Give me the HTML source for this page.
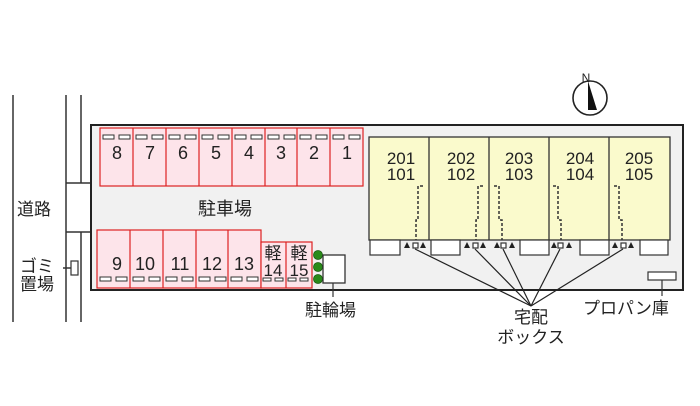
<!DOCTYPE html>
<html><head><meta charset="utf-8"><style>
html,body{margin:0;padding:0;background:#fff;width:700px;height:406px;overflow:hidden}
svg text{font-family:"Liberation Sans","Noto Sans CJK JP",sans-serif;fill:#222}
</style></head><body>
<svg width="700" height="406" viewBox="0 0 700 406" xmlns="http://www.w3.org/2000/svg">
<g stroke="#333" stroke-width="1.5" fill="none">
<line x1="13" y1="95" x2="13" y2="322"/>
<line x1="66" y1="95" x2="66" y2="322"/>
<line x1="81" y1="95" x2="81" y2="183"/>
<line x1="81" y1="232" x2="81" y2="322"/>
<line x1="66" y1="183" x2="91" y2="183"/>
<line x1="66" y1="232" x2="91" y2="232"/>
<line x1="63" y1="268" x2="71" y2="268"/>
</g>
<rect x="71" y="261" width="7" height="14" fill="#fff" stroke="#333" stroke-width="1.2"/>
<rect x="91" y="125" width="592" height="165" fill="#f1f1f1" stroke="#222" stroke-width="2"/>
<rect x="100" y="128" width="263" height="58" fill="#fde4ea" stroke="#d22" stroke-width="1.2"/>
<g stroke="#d22" stroke-width="1.2">
<line x1="133" y1="128" x2="133" y2="186"/><line x1="166" y1="128" x2="166" y2="186"/>
<line x1="199" y1="128" x2="199" y2="186"/><line x1="232" y1="128" x2="232" y2="186"/>
<line x1="265" y1="128" x2="265" y2="186"/><line x1="297" y1="128" x2="297" y2="186"/>
<line x1="330" y1="128" x2="330" y2="186"/>
</g>
<g fill="#fff" stroke="#333" stroke-width="1">
<rect x="103" y="135" width="11" height="4"/><rect x="119" y="135" width="11" height="4"/>
<rect x="136" y="135" width="11" height="4"/><rect x="152" y="135" width="11" height="4"/>
<rect x="169" y="135" width="11" height="4"/><rect x="185" y="135" width="11" height="4"/>
<rect x="202" y="135" width="11" height="4"/><rect x="218" y="135" width="11" height="4"/>
<rect x="235" y="135" width="11" height="4"/><rect x="251" y="135" width="11" height="4"/>
<rect x="268" y="135" width="11" height="4"/><rect x="284" y="135" width="11" height="4"/>
<rect x="300" y="135" width="11" height="4"/><rect x="316" y="135" width="11" height="4"/>
<rect x="333" y="135" width="11" height="4"/><rect x="349" y="135" width="11" height="4"/>
</g>
<g font-size="18" text-anchor="middle">
<text x="117" y="159">8</text><text x="150" y="159">7</text><text x="183" y="159">6</text>
<text x="216" y="159">5</text><text x="249" y="159">4</text><text x="281" y="159">3</text>
<text x="314" y="159">2</text><text x="347" y="159">1</text>
</g>
<rect x="97" y="230" width="164" height="58" fill="#fde4ea" stroke="#d22" stroke-width="1.2"/>
<rect x="261" y="242" width="51" height="46" fill="#fde4ea" stroke="#d22" stroke-width="1.2"/>
<g stroke="#d22" stroke-width="1.2">
<line x1="130" y1="230" x2="130" y2="288"/><line x1="163" y1="230" x2="163" y2="288"/>
<line x1="196" y1="230" x2="196" y2="288"/><line x1="228" y1="230" x2="228" y2="288"/>
<line x1="286" y1="242" x2="286" y2="288"/>
</g>
<g fill="#fff" stroke="#333" stroke-width="1">
<rect x="100" y="277" width="11" height="4"/><rect x="116" y="277" width="11" height="4"/>
<rect x="133" y="277" width="11" height="4"/><rect x="149" y="277" width="11" height="4"/>
<rect x="166" y="277" width="11" height="4"/><rect x="182" y="277" width="11" height="4"/>
<rect x="199" y="277" width="11" height="4"/><rect x="215" y="277" width="11" height="4"/>
<rect x="231" y="277" width="11" height="4"/><rect x="247" y="277" width="11" height="4"/>
<rect x="263" y="278" width="8" height="3"/><rect x="275" y="278" width="8" height="3"/>
<rect x="288" y="278" width="8" height="3"/><rect x="300" y="278" width="8" height="3"/>
</g>
<g font-size="18" text-anchor="middle">
<text x="117" y="270">9</text><text x="145" y="270">10</text><text x="180" y="270">11</text>
<text x="212" y="270">12</text><text x="244" y="270">13</text>
<text x="273" y="259" font-size="17">軽</text><text x="273" y="276" font-size="17">14</text>
<text x="299" y="259" font-size="17">軽</text><text x="299" y="276" font-size="17">15</text>
</g>
<g fill="#2a8a1a" stroke="#1a5a10" stroke-width="0.8">
<circle cx="318" cy="255" r="4.5"/><circle cx="318" cy="267" r="4.5"/><circle cx="318" cy="279" r="4.5"/>
</g>
<rect x="323" y="255" width="22" height="28" fill="#fff" stroke="#333" stroke-width="1.3"/>
<line x1="333" y1="283" x2="333" y2="297" stroke="#333" stroke-width="1.2"/>
<rect x="369" y="137" width="301" height="103" fill="#fafacc" stroke="#333" stroke-width="1.3"/>
<g stroke="#333" stroke-width="1.3">
<line x1="429" y1="137" x2="429" y2="240"/><line x1="489" y1="137" x2="489" y2="240"/>
<line x1="549" y1="137" x2="549" y2="240"/><line x1="609" y1="137" x2="609" y2="240"/>
</g>
<g font-size="17" text-anchor="middle">
<text x="401" y="164">201</text><text x="401" y="180">101</text>
<text x="461" y="164">202</text><text x="461" y="180">102</text>
<text x="519" y="164">203</text><text x="519" y="180">103</text>
<text x="580" y="164">204</text><text x="580" y="180">104</text>
<text x="639" y="164">205</text><text x="639" y="180">105</text>
</g>
<g stroke="#333" stroke-width="1.5" stroke-dasharray="3,2" fill="none">
<path d="M423 186 H418 V220 H416 V240"/>
<path d="M483 186 H478 V220 H476 V240"/>
<path d="M494 186 H499 V220 H502 V240"/>
<path d="M553 186 H558 V220 H561 V240"/>
<path d="M614 186 H619 V220 H622 V240"/>
</g>
<g fill="#fff" stroke="#333" stroke-width="1.2">
<rect x="370" y="240" width="30" height="15"/><rect x="431" y="240" width="29" height="15"/>
<rect x="520" y="240" width="29" height="15"/><rect x="580" y="240" width="29" height="15"/>
<rect x="640" y="240" width="28" height="15"/>
<rect x="413" y="243" width="5" height="5"/><rect x="473" y="243" width="5" height="5"/>
<rect x="501" y="243" width="5" height="5"/><rect x="558" y="243" width="5" height="5"/>
<rect x="621" y="243" width="5" height="5"/>
</g>
<g fill="#222">
<path d="M404 248 l3-6 3 6z M420 248 l3-6 3 6z"/>
<path d="M464 248 l3-6 3 6z M480 248 l3-6 3 6z"/>
<path d="M494 248 l3-6 3 6z M509 248 l3-6 3 6z"/>
<path d="M551 248 l3-6 3 6z M566 248 l3-6 3 6z"/>
<path d="M612 248 l3-6 3 6z M628 248 l3-6 3 6z"/>
</g>
<g stroke="#222" stroke-width="1.2">
<line x1="415" y1="249" x2="531" y2="306"/><line x1="475" y1="249" x2="531" y2="306"/>
<line x1="503" y1="249" x2="531" y2="306"/><line x1="560" y1="249" x2="531" y2="306"/>
<line x1="623" y1="249" x2="531" y2="306"/>
</g>
<rect x="648" y="272" width="28" height="8" fill="#fff" stroke="#333" stroke-width="1.2"/>
<line x1="662" y1="280" x2="662" y2="296" stroke="#333" stroke-width="1.2"/>
<circle cx="590" cy="98" r="17" fill="#fff" stroke="#222" stroke-width="1.6"/>
<path d="M588 81 L597 110 L588 110 Z" fill="#111"/>
<text x="586" y="82" font-size="12" text-anchor="middle">N</text>
<g font-size="17">
<text x="225" y="215" text-anchor="middle" font-size="18">駐車場</text>
<text x="17" y="215">道路</text>
<text x="20" y="272">ゴミ</text>
<text x="20" y="290">置場</text>
<text x="305" y="316">駐輪場</text>
<text x="531" y="323" text-anchor="middle">宅配</text>
<text x="531" y="343" text-anchor="middle">ボックス</text>
<text x="583" y="314">プロパン庫</text>
</g>
</svg>
</body></html>
